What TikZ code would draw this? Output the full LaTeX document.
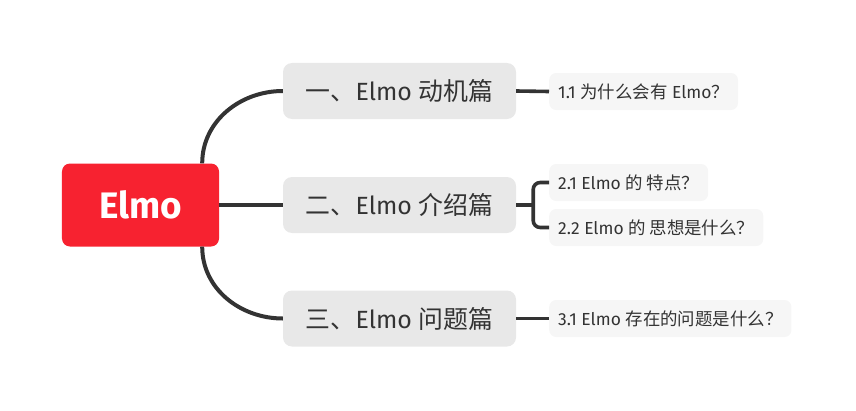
\documentclass[tikz,border=0pt]{standalone}
\usepackage{fontspec}
\setmainfont{Fira Sans}
\newfontfamily\cjk{Noto Sans CJK SC}
\definecolor{rootred}{HTML}{F72230}
\definecolor{topicgray}{HTML}{E8E8E8}
\definecolor{subgray}{HTML}{F6F6F6}
\definecolor{ink}{HTML}{333333}

\begin{document}
\begin{tikzpicture}[x=1bp,y=1bp,
    root/.style={fill=rootred, rounded corners=8bp,
      minimum width=157bp, minimum height=83bp, text=white,
      font=\fontsize{37}{40}\selectfont\bfseries},
    topic/.style={fill=topicgray, rounded corners=9bp,
      minimum width=233bp, minimum height=56bp, text=ink,
      font=\fontsize{25}{30}\selectfont},
    sub/.style={fill=subgray, rounded corners=7bp, anchor=west,
      minimum height=37bp, inner xsep=9bp, text=ink,
      font=\fontsize{17.5}{21}\selectfont},
    link/.style={draw=ink, line width=4bp},
    sublink/.style={draw=ink, line width=3.6bp}]
  \useasboundingbox (0,0) rectangle (856,410);
  \node[root] (r) at (140.5,205) {Elmo};
  \node[topic] (t1) at (399.5,319) {{\cjk 一、}Elmo {\cjk 动机篇}};
  \node[topic] (t2) at (399.5,205) {{\cjk 二、}Elmo {\cjk 介绍篇}};
  \node[topic] (t3) at (399.5,91.5) {{\cjk 三、}Elmo {\cjk 问题篇}};
  \node[sub] (s11) at (549,318.5) {1.1 {\cjk 为什么会有} Elmo{\cjk ？}};
  \node[sub] (s21) at (549,227.5) {2.1 Elmo {\cjk 的 特点？}};
  \node[sub] (s22) at (549,182.5) {2.2 Elmo {\cjk 的 思想是什么？}};
  \node[sub] (s31) at (549,91.5) {3.1 Elmo {\cjk 存在的问题是什么？}};
  % branches from the root
  \draw[link] ([xshift=-17bp]r.north east) to[out=90,in=180] (t1.west);
  \draw[link] (r.east) -- (t2.west);
  \draw[link] ([xshift=-17bp]r.south east) to[out=-90,in=180] (t3.west);
  % sub topics
  \draw[sublink] (t1.east) -- (s11.west);
  \draw[sublink] (t2.east) -- ++(17bp,0) coordinate (b2);
  \draw[sublink,rounded corners=7bp] (s21.west) -| (b2) |- (s22.west);
  \draw[sublink] (t3.east) -- (s31.west);
\end{tikzpicture}
\end{document}
